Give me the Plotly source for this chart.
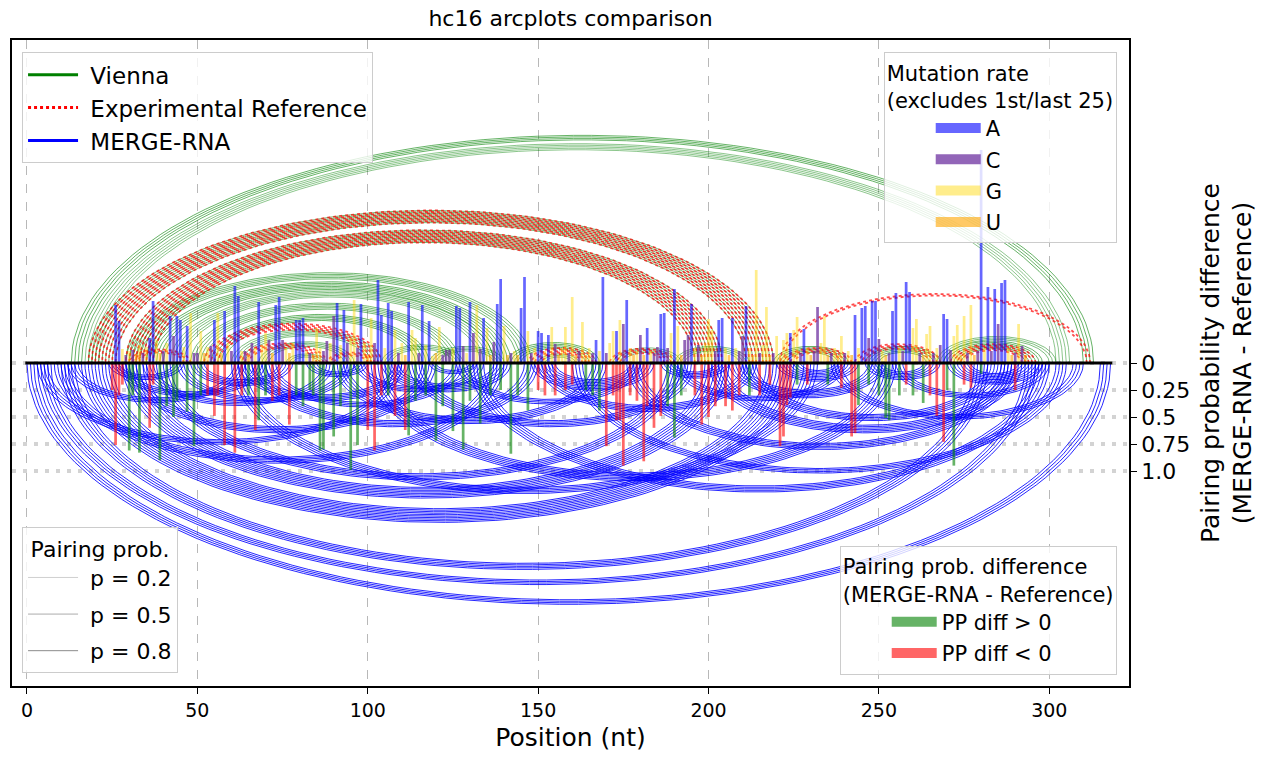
import numpy as np
import plotly.graph_objects as go

# ---------------- data ----------------
seq_len = 318
x_ticks = [0, 50, 100, 150, 200, 250, 300]
pp_ticks = [0, 0.25, 0.5, 0.75, 1.0]
pp_tick_labels = ["0", "0.25", "0.5", "0.75", "1.0"]

# helices: start i, end j, number of stacked pairs, pairing probability
vienna_i = [13, 17, 18, 29, 29, 35, 42, 48, 54, 60, 68, 76, 141, 150, 172, 190, 219, 246, 269, 267, 104, 118]
vienna_j = [313, 306, 219, 204, 148, 142, 137, 127, 118, 104, 96, 88, 168, 162, 192, 212, 241, 268, 298, 302, 128, 140]
vienna_n = [4, 5, 9, 9, 5, 6, 5, 5, 5, 5, 4, 3, 5, 3, 4, 4, 5, 5, 6, 3, 4, 4]
vienna_p = [0.6, 0.45, 0.55, 0.55, 0.55, 0.6, 0.5, 0.55, 0.6, 0.5, 0.55, 0.5, 0.6, 0.5, 0.5, 0.5, 0.6, 0.6, 0.6, 0.5, 0.5, 0.5]

ref_i = [18, 29, 52, 62, 147, 171, 222, 243, 271, 221, 30, 88]
ref_j = [219, 204, 104, 88, 167, 190, 242, 268, 296, 312, 48, 102]
ref_n = [9, 9, 5, 4, 5, 4, 4, 4, 5, 2, 3, 3]

merge_i = [0, 4, 10, 16, 28, 38, 8, 24, 48, 62, 82, 104, 118, 100, 130, 148, 186, 200, 206, 220, 246, 270, 160, 60,
           3, 12, 28, 44, 66, 90, 150, 176, 236, 26, 34, 70, 96, 112, 126, 190, 210, 254]
merge_j = [318, 296, 282, 226, 206, 192, 140, 46, 78, 112, 100, 142, 132, 255, 300, 184, 206, 292, 252, 244, 268, 298, 305, 232,
           110, 64, 120, 96, 150, 170, 214, 290, 310, 70, 90, 128, 134, 196, 180, 240, 286, 300]
merge_n = [4, 4, 5, 10, 8, 5, 5, 4, 5, 5, 4, 6, 3, 6, 5, 8, 5, 6, 6, 8, 6, 8, 4, 5,
           4, 4, 5, 4, 5, 5, 5, 5, 4, 4, 4, 4, 4, 5, 4, 4, 5, 4]

# mutation rate (positions 26..293, scaled units), nucleotide identity
mut_start = 26
mut_seq = ("AAGCGCUGCG" "AAGUCGACAA" "GAGCCGUGCA" "GUAGCAAGCU" "CGAGGCUAAC"
           "GUGAAAGCUG" "GCCGCAGACG" "GCAGUGCAAG" "AAGCGUAGGC" "AGAGUGCCCG"
           "AACGACGCAG" "UCAAGUCGUA" "AGCGAAGAGC" "UGGCGUCGUG" "CAGACGGAGC"
           "AGUGCUAGCC" "AACGAGUCCA" "GCUGGGCAAG" "UAGCCAGUGC" "GGUCGUGGAG"
           "GCAGUCCGGU" "CGUGCGUAGA" "ACAACGUCAA" "GCAAGGCUGG" "CGCAACGGUG"
           "CGUCAGACAC" "AAGUCGCU")
mut_rate = [58, 42, 14, 8, 12, 13, 9, 18, 10, 16,
            25, 62, 23, 10, 12, 20, 47, 27, 47, 43,
            16, 37, 50, 10, 10, 32, 10, 16, 17, 43,
            50, 10, 52, 20, 12, 77, 67, 12, 12, 8,
            20, 15, 61, 18, 30, 23, 10, 58, 66, 23,
            15, 10, 20, 43, 43, 45, 12, 10, 8, 35,
            15, 12, 22, 20, 47, 60, 18, 53, 20, 25,
            63, 15, 59, 20, 8, 45, 20, 83, 48, 15,
            60, 52, 33, 10, 20, 8, 61, 33, 25, 10,
            58, 18, 42, 7, 10, 36, 8, 13, 13, 15,
            57, 55, 17, 10, 61, 30, 58, 14, 45, 35,
            8, 21, 59, 84, 37, 8, 10, 12, 8, 55,
            86, 32, 10, 15, 32, 30, 12, 28, 36, 19,
            8, 15, 36, 10, 66, 8, 12, 41, 8, 15,
            10, 23, 12, 86, 10, 20, 32, 32, 43, 39,
            63, 15, 8, 12, 28, 8, 35, 12, 10, 16,
            49, 50, 15, 30, 74, 37, 8, 23, 28, 59,
            15, 18, 8, 20, 44, 33, 12, 43, 45, 15,
            8, 45, 15, 12, 27, 57, 15, 8, 93, 10,
            18, 56, 8, 10, 27, 8, 23, 30, 30, 33,
            46, 10, 34, 15, 8, 12, 56, 20, 47, 8,
            10, 15, 8, 27, 10, 12, 8, 48, 15, 55,
            57, 25, 62, 62, 24, 12, 8, 10, 52, 70,
            15, 12, 81, 71, 35, 44, 10, 8, 29, 37,
            10, 15, 18, 49, 44, 13, 27, 38, 8, 47,
            10, 58, 8, 12, 213, 15, 76, 12, 74, 39,
            80, 83, 15, 8, 10, 39, 17, 8]
mut_scale = 1 / 108.0

# pairing probability difference (MERGE-RNA - Reference)
pp_pos = [25, 26, 27, 28, 30, 31, 33, 36, 37, 39, 41, 43, 44, 47, 49, 51, 53, 55, 56, 58,
          61, 63, 65, 67, 68, 70, 72, 74, 77, 79, 81, 83, 84, 86, 87, 90, 92, 95, 97, 100,
          102, 104, 106, 108, 111, 112, 114, 117, 120, 122, 125, 128, 130, 133, 136, 139, 142, 144, 147, 150,
          152, 155, 158, 160, 164, 166, 168, 170, 172, 173, 174, 175, 177, 179, 181, 182, 184, 186, 188, 190,
          192, 196, 198, 200, 202, 205, 207, 209, 212, 215, 218, 221, 222, 223, 224, 226, 229, 235, 239, 242,
          243, 244, 247, 250, 252, 253, 256, 258, 260, 263, 265, 267, 269, 270, 272, 275, 277, 280, 290]
pp_diff = [-0.25, -0.76, -0.3, -0.2, 0.81, 0.3, 0.83, -0.6, -0.2, 0.9, 0.4, 0.5, 0.35, 0.45, 0.77, 0.3, -0.3, -0.49, -0.3, -0.76,
           -0.83, -0.3, 0.3, -0.62, 0.53, 0.3, -0.35, -0.3, -0.57, 0.3, 0.4, 0.25, 0.3, 0.81, 0.8, 0.68, 0.4, 0.99, 0.76, -0.62,
           -0.81, -0.3, 0.3, -0.49, -0.62, 0.67, 0.35, 0.3, 0.72, 0.4, 0.63, 0.8, 0.35, 0.56, 0.3, 0.25, 0.84, 0.3, 0.44, -0.25,
           -0.3, -0.3, -0.25, -0.2, 0.25, 0.3, 0.44, -0.77, -0.3, -0.53, -0.53, -0.95, -0.3, -0.35, -0.91, -0.4, -0.6, -0.49, 0.4, 0.69,
           0.3, -0.3, -0.57, -0.5, -0.4, -0.4, -0.44, -0.3, 0.3, -0.3, -0.2, -0.77, -0.68, -0.39, -0.32, 0.2, -0.2, 0.2, -0.23, -0.68,
           -0.65, 0.39, 0.2, 0.3, 0.51, 0.53, 0.3, -0.2, 0.3, 0.37, -0.3, -0.49, -0.73, 0.25, 0.95, -0.2, -0.23, 0.1, -0.25]

# ---------------- styles ----------------
ARC_H = 0.01405
nt_colors = {"A": "rgba(0,0,255,0.6)", "C": "rgba(110,50,160,0.75)",
             "G": "rgba(255,215,0,0.45)", "U": "rgba(255,165,0,0.6)"}


def helix_xy(i0, j0, n, sign):
    xs, ys = [], []
    t = np.linspace(0, np.pi, 90)
    for m in range(n):
        a, b = i0 + m, j0 - m
        c, r = (a + b) / 2.0, (b - a) / 2.0
        xs += list(c + r * np.cos(t)) + [None]
        ys += list(sign * ARC_H * r * np.sin(t)) + [None]
    return xs, ys


fig = go.Figure()

# Vienna arcs (above)
for i0, j0, n, p in zip(vienna_i, vienna_j, vienna_n, vienna_p):
    xs, ys = helix_xy(i0, j0, n, 1)
    fig.add_trace(go.Scatter(x=xs, y=ys, mode="lines", showlegend=False, hoverinfo="skip",
                             line=dict(color=f"rgba(0,128,0,{p})", width=1.0)))
# Reference arcs (above, dotted)
for i0, j0, n in zip(ref_i, ref_j, ref_n):
    xs, ys = helix_xy(i0, j0, n, 1)
    fig.add_trace(go.Scatter(x=xs, y=ys, mode="lines", showlegend=False, hoverinfo="skip",
                             line=dict(color="rgba(255,0,0,0.7)", width=1.8, dash="dot")))
# MERGE-RNA arcs (below)
xs_all, ys_all = [], []
for i0, j0, n in zip(merge_i, merge_j, merge_n):
    xs, ys = helix_xy(i0, j0, n, -1)
    xs_all += xs
    ys_all += ys
fig.add_trace(go.Scatter(x=xs_all, y=ys_all, mode="lines", showlegend=False, hoverinfo="skip",
                         line=dict(color="rgba(0,0,255,0.95)", width=0.9)))

# bars on overlay axes (drawn above the arcs)
mut_pos = list(range(mut_start, mut_start + len(mut_seq)))
for nt in "ACGU":
    px_ = [p for p, s in zip(mut_pos, mut_seq) if s == nt]
    py_ = [v * mut_scale for v, s in zip(mut_rate, mut_seq) if s == nt]
    fig.add_trace(go.Bar(x=px_, y=py_, width=0.8, marker=dict(color=nt_colors[nt], line=dict(width=0)),
                         showlegend=False, hoverinfo="skip", xaxis="x2", yaxis="y2"))

pos_x = [p for p, d in zip(pp_pos, pp_diff) if d > 0]
pos_y = [-abs(d) for d in pp_diff if d > 0]
neg_x = [p for p, d in zip(pp_pos, pp_diff) if d < 0]
neg_y = [-abs(d) for d in pp_diff if d < 0]
fig.add_trace(go.Bar(x=pos_x, y=pos_y, width=0.8, marker=dict(color="rgba(0,128,0,0.6)", line=dict(width=0)),
                     showlegend=False, hoverinfo="skip", xaxis="x2", yaxis="y2"))
fig.add_trace(go.Bar(x=neg_x, y=neg_y, width=0.8, marker=dict(color="rgba(255,0,0,0.6)", line=dict(width=0)),
                     showlegend=False, hoverinfo="skip", xaxis="x2", yaxis="y2"))

# baseline
fig.add_trace(go.Scatter(x=[-0.5, seq_len + 0.5], y=[0, 0], mode="lines", line=dict(color="black", width=3),
                         showlegend=False, hoverinfo="skip", xaxis="x2", yaxis="y2"))

# ---------------- legends ----------------
NB = "\u00a0"


def leg(name, color, legend, dash="solid", width=3):
    fig.add_trace(go.Scatter(x=[None], y=[None], mode="lines", name=name, legend=legend,
                             legendgroup=name, line=dict(color=color, width=width, dash=dash)))


leg(NB + "Vienna", "green", "legend")
leg(NB + "Experimental Reference", "red", "legend", dash="dot")
leg(NB + "MERGE-RNA", "blue", "legend")
for nt in "ACGU":
    leg(nt, nt_colors[nt], "legend2", width=10)
for p in [0.2, 0.5, 0.8]:
    leg(f"{NB}p = {p}", f"rgba(90,90,90,{p * 0.7 + 0.15:.2f})", "legend3", width=1)
leg("PP diff > 0", "rgba(0,128,0,0.6)", "legend4", width=10)
leg("PP diff < 0", "rgba(255,0,0,0.6)", "legend4", width=10)

FONT = "DejaVu Sans"
box = dict(bgcolor="rgba(255,255,255,0.8)", bordercolor="#cccccc", borderwidth=1)
XR = [-4.4, 323.4]
YR = [-2.99, 2.99]

fig.update_layout(
    width=1262, height=758,
    margin=dict(l=10, r=132, t=40, b=72),
    paper_bgcolor="white", plot_bgcolor="white",
    font=dict(family=FONT, size=20, color="black"),
    barmode="overlay",
    title=dict(text="hc16 arcplots comparison", x=0.5, xref="paper", xanchor="center", y=0.976,
               yanchor="middle", font=dict(size=22)),
    xaxis=dict(range=XR, tickvals=x_ticks, showgrid=True, gridcolor="#b8b8b8", griddash="dash", gridwidth=1,
               zeroline=False, showline=True, linecolor="black", linewidth=1.5, mirror=True,
               ticks="outside", ticklen=6, tickcolor="black", tickfont=dict(size=19),
               title=dict(text="Position (nt)", font=dict(size=25), standoff=9)),
    yaxis=dict(range=YR, side="right", tickvals=[-v for v in pp_ticks], ticktext=pp_tick_labels,
               showgrid=True, gridcolor="#d3d3d3", griddash="4px,7px", gridwidth=3.5,
               zeroline=False, showline=True, linecolor="black", linewidth=1.5, mirror=True,
               ticks="outside", ticklen=6, tickcolor="black", tickfont=dict(size=22),
               title=dict(text="Pairing probability difference<br>(MERGE-RNA - Reference)", font=dict(size=25),
                          standoff=12)),
    xaxis2=dict(range=XR, overlaying="x", visible=False),
    yaxis2=dict(range=YR, overlaying="y", visible=False),
    legend=dict(x=0.009, y=0.981, xanchor="left", yanchor="top", font=dict(size=23),
                tracegroupgap=0, itemwidth=50, **box),
    legend2=dict(x=0.989, y=0.981, xanchor="right", yanchor="top", font=dict(size=21),
                 title=dict(text="Mutation rate<br>(excludes 1st/last 25)", font=dict(size=21)),
                 tracegroupgap=1, indentation=46, itemwidth=45, **box),
    legend3=dict(x=0.009, y=0.02, xanchor="left", yanchor="bottom", font=dict(size=22),
                 title=dict(text="Pairing prob.", font=dict(size=22), side="top center"),
                 tracegroupgap=5, itemwidth=50, **box),
    legend4=dict(x=0.989, y=0.017, xanchor="right", yanchor="bottom", font=dict(size=21),
                 title=dict(text="Pairing prob. difference<br>(MERGE-RNA - Reference)", font=dict(size=21)),
                 tracegroupgap=1, indentation=46, itemwidth=45, **box),
)

fig.write_html("out.html")
